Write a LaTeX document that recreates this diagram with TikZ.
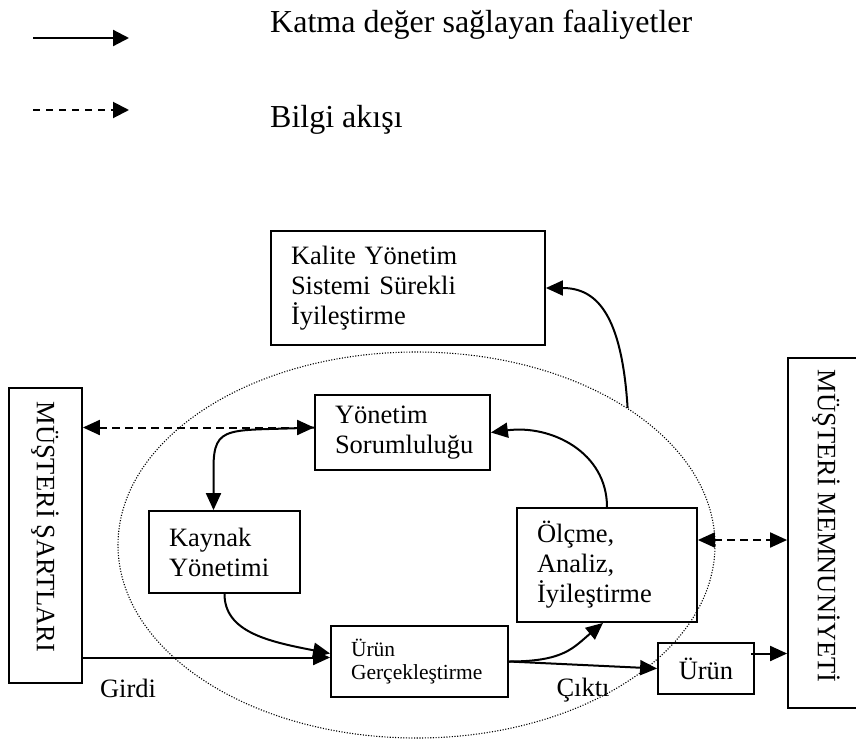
\documentclass[tikz,border=0pt]{standalone}
\usepackage{fontspec}
\setmainfont{Liberation Serif}
\usetikzlibrary{arrows.meta,shapes.geometric,calc}
\tikzset{
  px/.style={x=1pt,y=-1pt},
  boxa/.style={draw,line width=1.8pt,inner xsep=20pt,inner ysep=0pt,align=left,
    font=\fontsize{26.5}{30}\selectfont},
  plain/.style={draw,line width=1.8pt,inner sep=0pt},
  lbl/.style={inner sep=0pt,font=\fontsize{26.5}{30}\selectfont},
  vtxt/.style={inner sep=0pt,rotate=-90,font=\fontsize{26.5}{30}\selectfont},
  tip/.style={-{Triangle[length=17pt,width=15pt]}},
  tips/.style={{Triangle[length=17pt,width=15pt]}-{Triangle[length=17pt,width=15pt]}},
  flow/.style={line width=2pt},
  info/.style={line width=2pt,dash pattern=on 8pt off 5pt},
}
\begin{document}
\begin{tikzpicture}[px]
\useasboundingbox (0,0) rectangle (856,742);
% legend
\coordinate (l1a) at (33,38);
\coordinate (l1b) at (129,38);
\coordinate (l2a) at (33,110);
\coordinate (l2b) at (129,110);
\draw[line width=2.2pt,-{Triangle[length=16pt,width=16pt]}] (l1a) -- (l1b);
\draw[line width=2pt,dash pattern=on 7pt off 6pt,-{Triangle[length=16pt,width=16pt]}] (l2a) -- (l2b);
\node[inner sep=0pt,anchor=base west,font=\fontsize{32}{36}\selectfont] (lt1) at (270,32) {Katma değer sağlayan faaliyetler};
\node[inner sep=0pt,anchor=base west,font=\fontsize{32}{36}\selectfont] (lt2) at (270,127) {Bilgi akışı};

% ellipse
\node[draw,ellipse,line width=1.1pt,dash pattern=on 1.1pt off 1.6pt,minimum width=597pt,minimum height=386pt,inner sep=0pt] (el) at (416.5,545) {};

% boxes
\node[boxa,text width=234pt,minimum height=114pt] (kq) at (408,288) {Kalite Yönetim\\Sistemi Sürekli\\İyileştirme};
\node[boxa,text width=135pt,minimum height=75pt] (ys) at (402.5,432.5) {Yönetim\\Sorumluluğu};
\node[boxa,text width=111pt,minimum height=82pt] (ky) at (224.5,552) {Kaynak\\Yönetimi};
\node[boxa,text width=140pt,minimum height=114pt] (ol) at (607,565) {Ölçme,\\Analiz,\\İyileştirme};
\node[boxa,text width=137pt,minimum height=71pt,font=\fontsize{21.5}{23.5}\selectfont] (ug) at (419.5,661.5) {Ürün\\Gerçekleştirme};
\node[plain,minimum width=96pt,minimum height=51pt,font=\fontsize{26.5}{30}\selectfont] (ur) at (706,668.5) {Ürün};
\node[plain,minimum width=73pt,minimum height=295pt] (ms) at (45.5,535.5) {};
\node[vtxt] (mst) at (45,527) {MÜŞTERİ ŞARTLARI};
\node[plain,minimum width=80pt,minimum height=350pt] (mm) at (828,533) {};
\node[vtxt] (mmt) at (826,526) {MÜŞTERİ MEMNUNİYETİ};

% labels
\node[lbl,anchor=base] (gi) at (128,697) {Girdi};
\node[lbl,anchor=base] (ck) at (583,696) {Çıktı};

% connectors
\coordinate (ysw) at ($(ys.west)+(0,-5)$);
\draw[info,tips] (ms.east |- ysw) -- (ysw);
\draw[flow,tip] (ysw) .. controls +(-85,4) and +(0,-45) .. ($(ky.north)+(-11,-42)$) -- ($(ky.north)+(-11,0)$);
\draw[flow,tip] (ky.south) .. controls +(0,38) and +(-62,-12) .. ($(ug.west)+(0,-8)$);
\coordinate (ugw) at ($(ug.west)+(0,-4)$);
\draw[flow,tip] (ms.east |- ugw) -- (ugw);
\draw[flow,tip] (ug.east) .. controls +(55,0) and +(-30,25) .. ($(ol.south)+(-4,0)$);
\draw[flow,tip] (ug.east) -- (ur.west);
\draw[flow,tip] (ol.north) .. controls +(0,-55) and +(60,-8) .. (ys.east);
\coordinate (olr) at ($(ol.east)+(0,-25)$);
\draw[info,tips] (olr) -- (mm.west |- olr);
\coordinate (urr) at ($(ur.east)+(-4,-15)$);
\draw[flow,tip] (urr) -- (mm.west |- urr);
\draw[flow,tip] (el.33) .. controls +(-6,-95) and +(50,0) .. (kq.east);
\end{tikzpicture}
\end{document}
